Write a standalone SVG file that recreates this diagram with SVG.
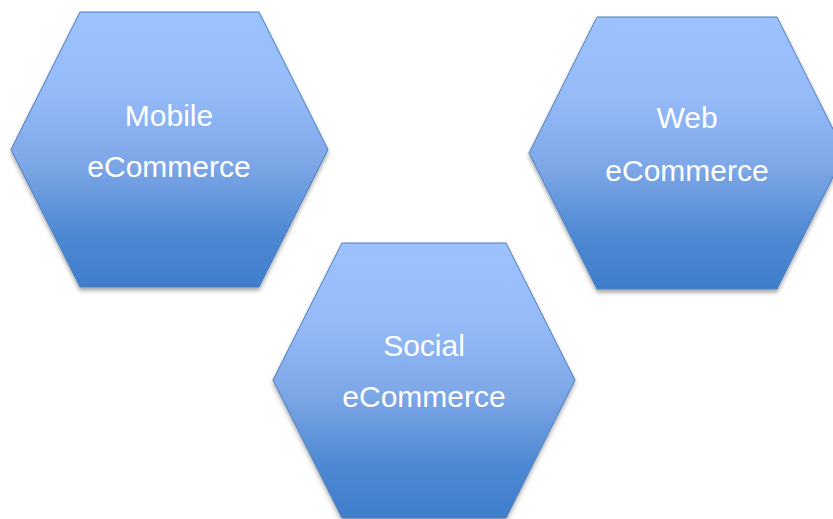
<svg xmlns="http://www.w3.org/2000/svg" width="833" height="519" viewBox="0 0 833 519">
  <defs>
    <linearGradient id="hexFill" x1="0" y1="0" x2="0" y2="1">
      <stop offset="0" stop-color="#9DC3FF"/>
      <stop offset="0.3" stop-color="#94BAF8"/>
      <stop offset="0.55" stop-color="#7EA7E7"/>
      <stop offset="0.8" stop-color="#4F89D3"/>
      <stop offset="1" stop-color="#3E7ECB"/>
    </linearGradient>
    <filter id="shadow" x="-10%" y="-10%" width="120%" height="125%">
      <feDropShadow dx="0" dy="3" stdDeviation="2.2" flood-color="#000" flood-opacity="0.35"/>
    </filter>
  </defs>
  <style>
    .hex { fill: url(#hexFill); stroke: #4A7EBB; stroke-width: 1; filter: url(#shadow); }
    .label { font-family: "Liberation Sans", Arial, sans-serif; font-size: 30px; fill: #FFFFFF; text-anchor: middle; }
  </style>
  <rect width="833" height="519" fill="#FFFFFF"/>

  <g id="mobile-ecommerce">
    <polygon class="hex" points="11,149.5 80,12 259,12 328,149.5 259,287 80,287"/>
    <text class="label" x="169" y="126">Mobile</text>
    <text class="label" x="169" y="177">eCommerce</text>
  </g>

  <g id="web-ecommerce">
    <polygon class="hex" points="529,153 597,17 777,17 845,153 777,289 597,289"/>
    <text class="label" x="687" y="128">Web</text>
    <text class="label" x="687" y="181">eCommerce</text>
  </g>

  <g id="social-ecommerce">
    <polygon class="hex" points="273,380 342,243 506,243 575,380 506,518 342,518"/>
    <text class="label" x="424" y="356">Social</text>
    <text class="label" x="424" y="407">eCommerce</text>
  </g>
</svg>
